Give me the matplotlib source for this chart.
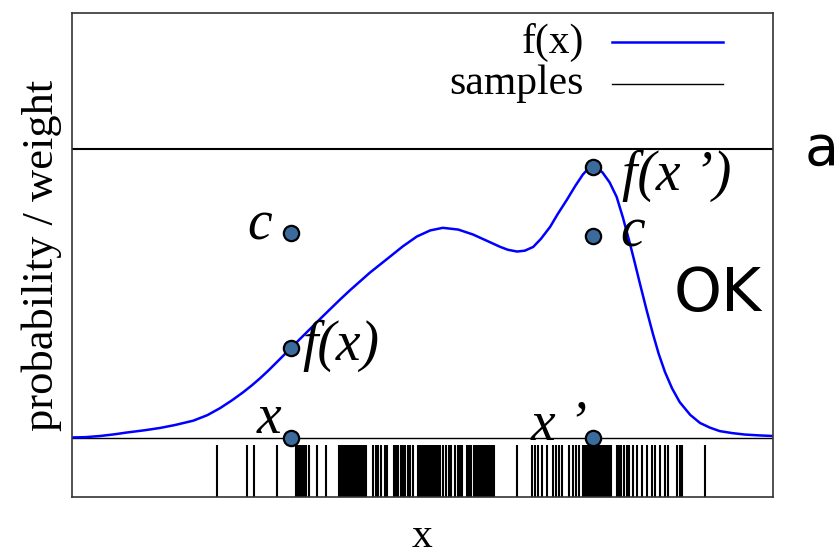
import numpy as np
import matplotlib
matplotlib.use("Agg")
import matplotlib.pyplot as plt

# density curve f(x)
curve_x = [0.00, 0.19, 0.40, 0.61, 0.78, 1.04, 1.26, 1.47, 1.73, 1.93, 2.11, 2.28,
           2.44, 2.57, 2.68, 2.80, 2.92, 3.04, 3.14, 3.25, 3.40, 3.54, 3.68, 3.82,
           3.97, 4.11, 4.25, 4.39, 4.54, 4.72, 4.92, 5.11, 5.29, 5.51, 5.72, 5.92,
           6.11, 6.22, 6.35, 6.46, 6.58, 6.69, 6.82, 6.93, 7.06, 7.18, 7.29, 7.36,
           7.43, 7.50, 7.57, 7.67, 7.77, 7.86, 7.96, 8.03, 8.10, 8.20, 8.29, 8.37,
           8.46, 8.56, 8.67, 8.82, 8.96, 9.10, 9.24, 9.42, 9.60, 9.81, 10.00]
curve_y = [0.002, 0.003, 0.007, 0.013, 0.019, 0.027, 0.035, 0.045, 0.060, 0.079, 0.103, 0.130,
           0.158, 0.183, 0.206, 0.233, 0.262, 0.291, 0.315, 0.342, 0.378, 0.412, 0.445, 0.478,
           0.512, 0.542, 0.572, 0.599, 0.628, 0.663, 0.697, 0.718, 0.727, 0.721, 0.704, 0.682,
           0.661, 0.651, 0.645, 0.648, 0.661, 0.689, 0.730, 0.775, 0.824, 0.872, 0.912, 0.930,
           0.938, 0.933, 0.918, 0.884, 0.834, 0.762, 0.672, 0.605, 0.536, 0.440, 0.358, 0.291,
           0.228, 0.172, 0.124, 0.080, 0.052, 0.036, 0.024, 0.017, 0.012, 0.009, 0.007]

# sample positions (rug)
samples = [2.07, 2.50, 2.60, 2.92,
           3.20, 3.22, 3.25, 3.28, 3.31, 3.34, 3.38, 3.50, 3.62,
           3.81, 3.83, 3.84, 3.87, 3.89, 3.92, 3.94, 3.96, 3.98, 4.01, 4.03, 4.05,
           4.08, 4.10, 4.12, 4.15, 4.17, 4.19,
           4.29, 4.34, 4.37, 4.41, 4.47, 4.49, 4.59, 4.62, 4.65, 4.69, 4.72, 4.75,
           4.79, 4.82, 4.86, 4.94, 4.96, 4.97, 4.99, 5.00, 5.02, 5.04, 5.05, 5.07,
           5.08, 5.10, 5.12, 5.14, 5.16, 5.18, 5.21, 5.23,
           5.25, 5.29, 5.34, 5.38, 5.41, 5.46, 5.51, 5.53, 5.56, 5.63, 5.66, 5.69,
           5.73, 5.76, 5.79, 5.82, 5.85, 5.87, 5.89, 5.91, 5.93, 5.95, 5.96, 5.99,
           6.01, 6.02,
           6.35, 6.56, 6.60, 6.65, 6.70, 6.78, 6.86, 6.90, 6.95, 6.99, 7.09, 7.15,
           7.19, 7.23, 7.29, 7.30, 7.32, 7.34, 7.35, 7.37, 7.38, 7.40, 7.42, 7.43,
           7.45, 7.46, 7.48, 7.49, 7.51, 7.52, 7.54, 7.55, 7.57, 7.59, 7.60, 7.62,
           7.64, 7.66, 7.68, 7.69, 7.77, 7.80, 7.83, 7.87, 7.92, 7.95, 8.00, 8.06,
           8.13, 8.20, 8.27, 8.32, 8.39, 8.46, 8.50, 8.63, 8.67, 8.70, 9.03]

# highlighted points: x, f(x), c at x and x'
pts_x = [3.13, 3.13, 3.13, 7.43, 7.43, 7.43]
pts_y = [0.0, 0.313, 0.709, 0.0, 0.938, 0.699]

fig = plt.figure(figsize=(8.39, 5.58), dpi=100)
ax = fig.add_axes([0.0858, 0.1093, 0.8355, 0.8674])

ax.set_xlim(0, 10)
ax.set_ylim(-0.204, 1.47)

ax.axhline(1.0, color="black", lw=1.5)
ax.axhline(0.0, color="black", lw=1.0)
ax.plot(curve_x, curve_y, color="#0000ff", lw=1.8)
ax.vlines(samples, -0.204, -0.024, color="black", lw=1.5)
ax.plot(pts_x, pts_y, "o", ms=11, mfc="#3a6b9c", mec="black", mew=1.6, zorder=5)

serif = "Liberation Serif"
lab = dict(family=serif, style="italic", fontsize=40, va="baseline")
ax.text(2.85, 0.685, "c", ha="right", **lab)
ax.text(7.82, 0.664, "c", ha="left", **lab)
ax.text(3.28, 0.27, "f(x)", ha="left", **lab)
ax.text(7.85, 0.858, "f(x \u2019)", ha="left", **lab)
ax.text(2.98, 0.017, "x", ha="right", **lab)
ax.text(7.36, -0.007, "x \u2019", ha="right", **lab)

# legend, gnuplot style
ax.text(0.730, 0.940, "f(x)", transform=ax.transAxes, ha="right", va="center",
        family=serif, fontsize=30)
ax.text(0.730, 0.853, "samples", transform=ax.transAxes, ha="right", va="center",
        family=serif, fontsize=30)
ax.plot([0.770, 0.929], [0.940, 0.940], transform=ax.transAxes, color="#0000ff", lw=1.8)
ax.plot([0.770, 0.929], [0.853, 0.853], transform=ax.transAxes, color="black", lw=1.0)

ax.set_xticks([])
ax.set_yticks([])
for s in ax.spines.values():
    s.set_color("#333333")
    s.set_linewidth(1.2)

ax.set_xlabel("x", family=serif, fontsize=30, labelpad=15)
ax.set_ylabel("probability / weight", family=serif, fontsize=32, labelpad=7)

fig.text(822 / 839, 1 - 150 / 558, "a", fontsize=40, ha="center", va="center")
fig.text(718 / 839, 1 - 294 / 558, "OK", fontsize=44, ha="center", va="center")

fig.savefig("out.png", dpi=100)
